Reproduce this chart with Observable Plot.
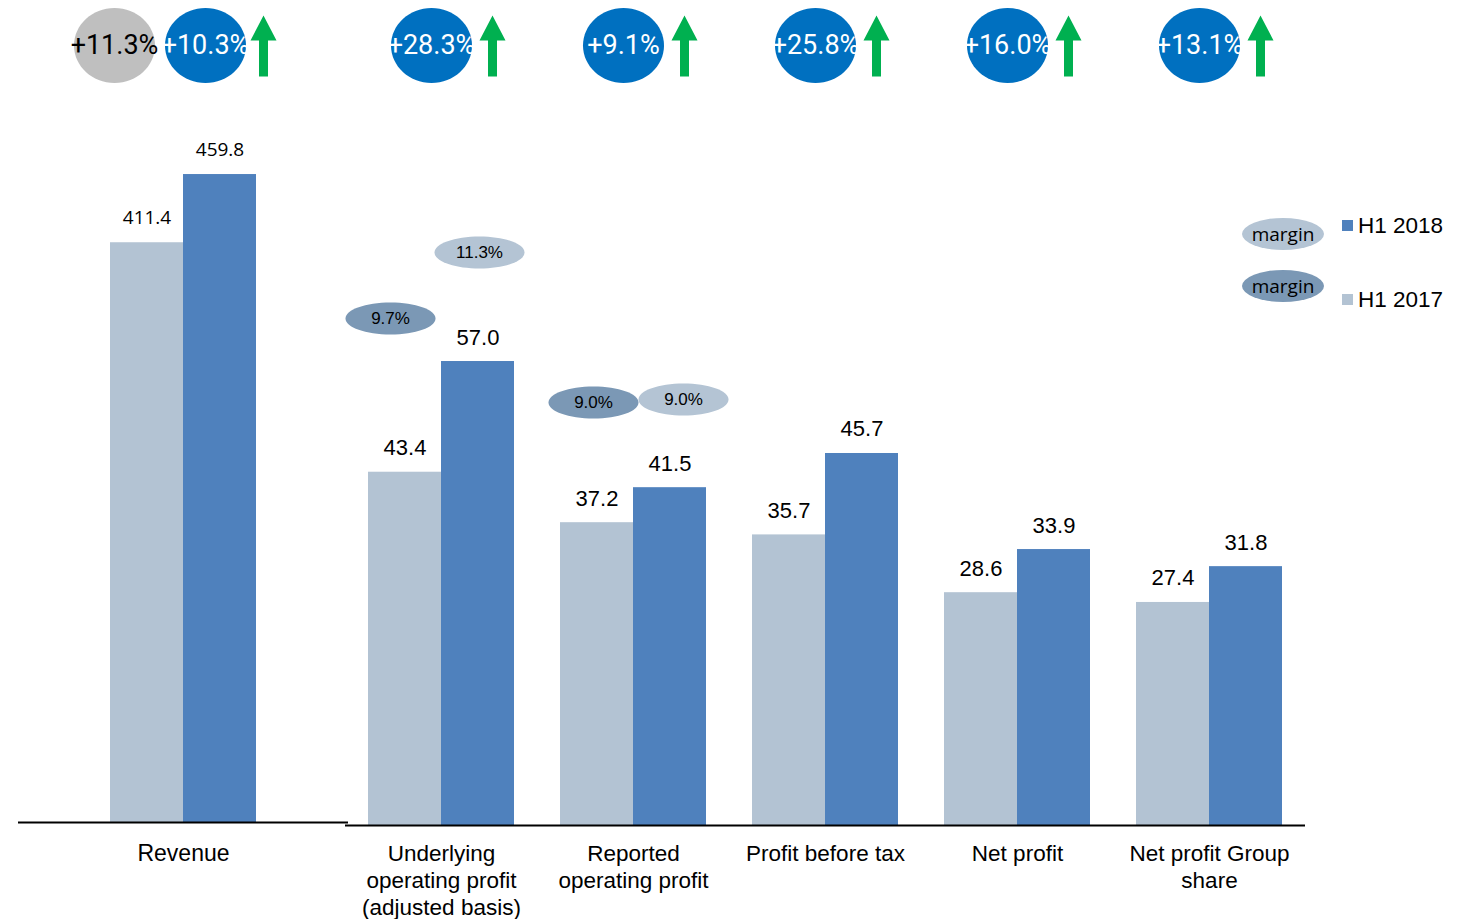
<!DOCTYPE html>
<html>
<head>
<meta charset="utf-8">
<script src="https://cdn.jsdelivr.net/npm/d3@7"></script>
<script src="https://cdn.jsdelivr.net/npm/@observablehq/plot@0.6"></script>
<style>
  html, body { margin: 0; padding: 0; background: #fff; color: #000; }
  #wrap { position: relative; width: 1466px; height: 919px; overflow: hidden; font-family: "Liberation Sans", Arial, sans-serif; }
  #wrap > div.layer { position: absolute; left: 0; top: 0; }
  svg { overflow: visible; background: transparent !important; }
  .leg { position: absolute; }
</style>
</head>
<body>
<div id="wrap">
  <div class="layer" id="rev"></div>
  <div class="layer" id="prof"></div>
  <div id="legend"></div>
</div>
<script>
// ---------- data ----------
const series = ["H1 2017", "H1 2018"];
const revenueLabel = "Revenue";
const revenueValues = [411.4, 459.8];
const revenueGrowth = ["+11.3%", "+10.3%"]; // grey bubble, blue bubble
const categories = [
  "Underlying\noperating profit\n(adjusted basis)",
  "Reported\noperating profit",
  "Profit before tax",
  "Net profit",
  "Net profit Group\nshare"
];
const values2017 = [43.4, 37.2, 35.7, 28.6, 27.4];
const values2018 = [57.0, 41.5, 45.7, 33.9, 31.8];
const growth = ["+28.3%", "+9.1%", "+25.8%", "+16.0%", "+13.1%"];
const margins2017 = ["9.7%", "9.0%"];   // first two categories
const margins2018 = ["11.3%", "9.0%"];
const legendLabels = ["H1 2018", "H1 2017"];
const legendMarginText = "margin";

// ---------- styles ----------
const C17 = "#B3C3D3", C18 = "#4F81BD", BLUE = "#0070C0", GREEN = "#00B050", GREY = "#BFBFBF";
const MARG_DARK = "#7B98B5", MARG_LIGHT = "#B4C4D4";
const FONT = "Liberation Sans, Arial, sans-serif";

// custom symbols
function ellipse(rx, ry) {
  return {
    draw(ctx, size) {
      const s = Math.sqrt(size / Math.PI), a = rx * s, b = ry * s, k = 0.5523;
      ctx.moveTo(a, 0);
      ctx.bezierCurveTo(a, b * k, a * k, b, 0, b);
      ctx.bezierCurveTo(-a * k, b, -a, b * k, -a, 0);
      ctx.bezierCurveTo(-a, -b * k, -a * k, -b, 0, -b);
      ctx.bezierCurveTo(a * k, -b, a, -b * k, a, 0);
      ctx.closePath();
    }
  };
}
const upArrow = {
  draw(ctx, size) {
    const s = Math.sqrt(size / Math.PI);
    const pts = [[0, -30.5], [13, -5.5], [4.5, -5.5], [4.5, 30.5], [-4.5, 30.5], [-4.5, -5.5], [-13, -5.5]];
    ctx.moveTo(pts[0][0] * s, pts[0][1] * s);
    for (const p of pts.slice(1)) ctx.lineTo(p[0] * s, p[1] * s);
    ctx.closePath();
  }
};
const bubble = ellipse(40.5, 37.5);
const pill = ellipse(45, 16);
const BUBBLE_Y = 45;

// ---------- revenue chart ----------
const revData = series.map((s, i) => ({series: s, value: revenueValues[i]}));
const revPlot = Plot.plot({
  width: 366, height: 919,
  marginLeft: 18, marginRight: 18, marginTop: 0, marginBottom: 97,
  style: {fontFamily: FONT, background: "transparent"},
  x: {domain: series, paddingInner: 0, paddingOuter: 1.23, axis: null},
  y: {domain: [0, 583.3], axis: null},
  color: {domain: series, range: [C17, C18]},
  marks: [
    Plot.barY(revData, {x: "series", y: "value", fill: "series"}),
    Plot.ruleY([0], {stroke: "#000", strokeWidth: 2}),
    Plot.text(revData, {x: "series", y: "value", text: d => d.value.toFixed(1), lineAnchor: "bottom", dy: -19,
      fontSize: 19, fontFamily: "Open Sans", letterSpacing: 1.5, fill: "#000"}),
    Plot.text([revenueLabel], {text: d => d, frameAnchor: "bottom", lineAnchor: "top", dy: 22,
      fontSize: 23, letterSpacing: 2.6, fill: "#000"}),
    // growth bubbles
    Plot.dot([revenueGrowth[0]], {frameAnchor: "top", dy: BUBBLE_Y, dx: -69, r: 1, symbol: bubble, fill: GREY, stroke: "none"}),
    Plot.text([revenueGrowth[0]], {text: d => d, frameAnchor: "top", lineAnchor: "middle", dy: BUBBLE_Y, dx: -69, fontSize: 27,
      fontFamily: "Roboto", letterSpacing: -0.5, fill: "#000"}),
    Plot.dot([revenueGrowth[1]], {frameAnchor: "top", dy: BUBBLE_Y, dx: 22, r: 1, symbol: bubble, fill: BLUE, stroke: "none"}),
    Plot.text([revenueGrowth[1]], {text: d => d, frameAnchor: "top", lineAnchor: "middle", dy: BUBBLE_Y, dx: 22, fontSize: 27,
      fontFamily: "Roboto", letterSpacing: -0.5, fill: "#fff"}),
    Plot.dot([revenueGrowth[1]], {frameAnchor: "top", dy: BUBBLE_Y + 0.5, dx: 80, r: 1, symbol: upArrow, fill: GREEN, stroke: "none"})
  ]
});
document.getElementById("rev").appendChild(revPlot);

// ---------- profit chart ----------
const profData = categories.flatMap((c, i) => [
  {cat: c, series: series[0], value: values2017[i]},
  {cat: c, series: series[1], value: values2018[i]}
]);
const growthData = categories.map((c, i) => ({cat: c, g: growth[i]}));

// margin pill annotations (data + placement)
const marginItems = [
  {cat: categories[0], series: series[0], text: margins2017[0], fill: MARG_DARK},
  {cat: categories[0], series: series[1], text: margins2018[0], fill: MARG_LIGHT},
  {cat: categories[1], series: series[0], text: margins2017[1], fill: MARG_DARK},
  {cat: categories[1], series: series[1], text: margins2018[1], fill: MARG_LIGHT}
];
const marginPlacement = [[-14.5, 318], [1.5, 252], [-3.5, 402], [13.5, 399]]; // dx, dy from top (px)

const marginMarks = marginItems.flatMap((m, i) => {
  const [dx, dy] = marginPlacement[i];
  return [
    Plot.dot([m], {fx: "cat", x: "series", frameAnchor: "top", dx, dy, r: 1, symbol: pill, fill: m.fill, stroke: "none"}),
    Plot.text([m], {fx: "cat", x: "series", text: "text", frameAnchor: "top", lineAnchor: "middle", dx, dy, fontSize: 17, fill: "#000"})
  ];
});

const profPlot = Plot.plot({
  width: 1466, height: 919,
  marginLeft: 345, marginRight: 161, marginTop: 0, marginBottom: 94,
  style: {fontFamily: FONT, background: "transparent"},
  fx: {domain: categories, padding: 0, axis: null},
  x: {domain: series, paddingInner: 0, paddingOuter: 0.315, axis: null},
  y: {domain: [0, 101.35], axis: null},
  color: {domain: series, range: [C17, C18]},
  marks: [
    Plot.barY(profData, {fx: "cat", x: "series", y: "value", fill: "series"}),
    Plot.ruleY([0], {stroke: "#000", strokeWidth: 2}),
    Plot.text(profData, {fx: "cat", x: "series", y: "value", text: d => d.value.toFixed(1), lineAnchor: "bottom", dy: -17,
      fontSize: 22, fill: "#000"}),
    Plot.text(categories.map(c => ({cat: c})), {fx: "cat", text: "cat", frameAnchor: "bottom", lineAnchor: "top", dy: 16,
      fontSize: 22.5, lineHeight: 1.2, letterSpacing: 0.3, fill: "#000"}),
    Plot.dot(growthData, {fx: "cat", frameAnchor: "top", dy: BUBBLE_Y, dx: -10, r: 1, symbol: bubble, fill: BLUE, stroke: "none"}),
    Plot.text(growthData, {fx: "cat", text: "g", frameAnchor: "top", lineAnchor: "middle", dy: BUBBLE_Y, dx: -10, fontSize: 27,
      fontFamily: "Roboto", letterSpacing: -0.5, fill: "#fff"}),
    Plot.dot(growthData, {fx: "cat", frameAnchor: "top", dy: BUBBLE_Y + 0.5, dx: 51, r: 1, symbol: upArrow, fill: GREEN, stroke: "none"}),
    ...marginMarks
  ]
});
document.getElementById("prof").appendChild(profPlot);

// ---------- legend ----------
const legend = document.getElementById("legend");
const legendRows = [
  {label: legendLabels[0], color: C18, pill: MARG_LIGHT, pillY: 234, sqY: 220, textY: 226},
  {label: legendLabels[1], color: C17, pill: MARG_DARK, pillY: 286, sqY: 294, textY: 300}
];
for (const r of legendRows) {
  const p = document.createElement("div");
  p.className = "leg";
  Object.assign(p.style, {left: "1242px", top: (r.pillY - 16) + "px", width: "82px", height: "32px",
    borderRadius: "50%", background: r.pill, display: "flex", alignItems: "center", justifyContent: "center",
    fontFamily: "Open Sans", fontSize: "19px", lineHeight: "32px"});
  p.textContent = legendMarginText;
  legend.appendChild(p);
  const sq = document.createElement("div");
  sq.className = "leg";
  Object.assign(sq.style, {left: "1342px", top: r.sqY + "px", width: "11px", height: "11px", background: r.color});
  legend.appendChild(sq);
  const t = document.createElement("div");
  t.className = "leg";
  Object.assign(t.style, {left: "1358px", top: (r.textY - 13) + "px", height: "26px", lineHeight: "26px",
    fontSize: "22.5px", fontFamily: FONT});
  t.textContent = r.label;
  legend.appendChild(t);
}
</script>
</body>
</html>
